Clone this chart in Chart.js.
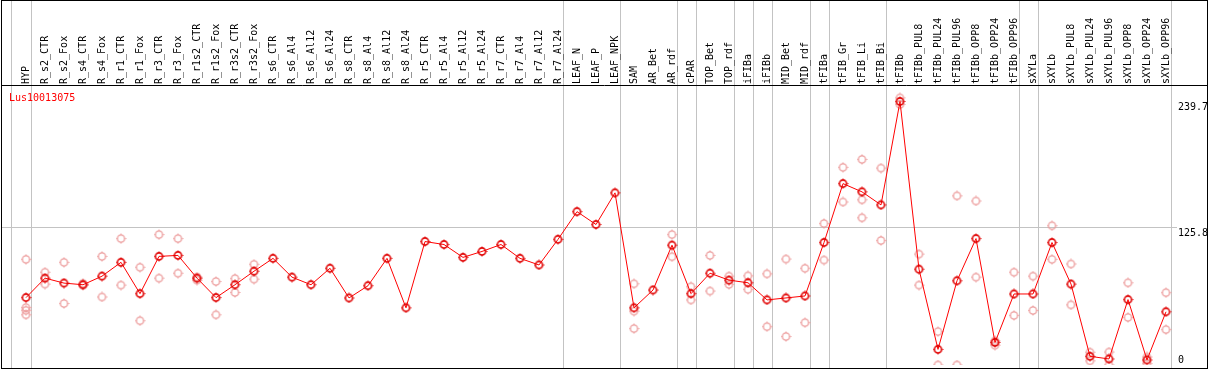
<!DOCTYPE html>
<html>
<head>
<meta charset="utf-8">
<script src="https://cdn.jsdelivr.net/npm/chart.js@4/dist/chart.umd.min.js"></script>
<style>
  body { margin: 0; background: #fff; }
  canvas { display: block; }
</style>
</head>
<body>
<canvas id="chart" width="1209" height="370"></canvas>
<script>
// ----- Data -----
var geneName = 'Lus10013075';

var categories = [
  'HYP', 'R_s2_CTR', 'R_s2_Fox', 'R_s4_CTR', 'R_s4_Fox', 'R_r1_CTR', 'R_r1_Fox',
  'R_r3_CTR', 'R_r3_Fox', 'R_r1s2_CTR', 'R_r1s2_Fox', 'R_r3s2_CTR', 'R_r3s2_Fox',
  'R_s6_CTR', 'R_s6_Al4', 'R_s6_Al12', 'R_s6_Al24', 'R_s8_CTR', 'R_s8_Al4',
  'R_s8_Al12', 'R_s8_Al24', 'R_r5_CTR', 'R_r5_Al4', 'R_r5_Al12', 'R_r5_Al24',
  'R_r7_CTR', 'R_r7_Al4', 'R_r7_Al12', 'R_r7_Al24', 'LEAF_N', 'LEAF_P', 'LEAF_NPK',
  'SAM', 'AR_Bet', 'AR_rdf', 'cPAR', 'TOP_Bet', 'TOP_rdf', 'iFIBa', 'iFIBb',
  'MID_Bet', 'MID_rdf', 'tFIBa', 'tFIB_Gr', 'tFIB_Li', 'tFIB_Bi', 'tFIBb',
  'tFIBb_PUL8', 'tFIBb_PUL24', 'tFIBb_PUL96', 'tFIBb_OPP8', 'tFIBb_OPP24', 'tFIBb_OPP96',
  'sXYLa', 'sXYLb', 'sXYLb_PUL8', 'sXYLb_PUL24', 'sXYLb_PUL96', 'sXYLb_OPP8',
  'sXYLb_OPP24', 'sXYLb_OPP96'
];

// mean expression per sample
var meanValues = [
  61.3, 79.0, 74.5, 73.0, 80.8, 93.4, 64.9, 98.8, 99.7, 79.0,
  61.3, 73.0, 85.3, 97.0, 79.9, 73.0, 88.0, 61.0, 72.1, 97.0,
  52.0, 112.3, 109.6, 97.9, 103.3, 109.6, 97.0, 91.0, 114.3, 139.5,
  127.8, 156.6, 52.0, 68.2, 109.0, 64.9, 83.5, 77.2, 74.8, 59.2,
  61.0, 62.8, 111.4, 165.0, 157.5, 145.6, 239.7, 87.1, 14.2, 76.6,
  115.0, 20.5, 64.6, 64.6, 111.4, 73.6, 7.9, 5.5, 59.5, 4.6, 48.4
];

// single replicates per sample (empty = none shown)
var replicates = [
  [96.1, 52.3, 49.8, 45.7], [84.4, 73.6], [93.4, 55.9], [74.3, 72.5], [98.8, 61.9],
  [115.0, 72.7], [88.9, 40.3], [118.6, 79.0], [115.0, 83.5], [77.2, 80.0],
  [75.9, 45.7], [78.6, 66.0], [91.6, 78.1], [], [], [], [], [], [], [], [], [], [], [], [],
  [], [], [], [], [], [], [],
  [73.9, 49.0, 33.1], [], [118.6, 98.5], [71.2, 59.2], [99.7, 67.3], [80.8, 73.3],
  [81.1, 68.8], [82.9, 34.9], [96.4, 25.9], [88.0, 38.5], [128.7, 95.5],
  [179.8, 148.3], [187.0, 150.3, 133.9], [179.1, 113.2], [243.0, 237.0],
  [100.9, 72.7], [30.4, 0], [153.9, 0], [149.2, 79.9], [22.0, 18.0], [84.4, 45.1],
  [80.8, 49.6], [126.7, 96.1], [91.9, 54.7], [11.6, 3.8], [11.8, 0], [74.8, 43.3],
  [7.3, 1.3], [65.8, 32.2]
];

var yTickValues = [0, 125.8, 239.7];
var yTickLabels = ['0', '125.8', '239.7'];
var yMax = 254.7;

// group separators, in category units
var separators = [-0.8, 0.25, 28.25, 31.25, 34.25, 35.25, 37.25, 38.25, 39.25,
                  41.25, 42.25, 45.25, 52.25, 53.25, 60.25];

// ----- Helpers -----
function makeMarker(color, lw) {
  var c = document.createElement('canvas');
  c.width = 11; c.height = 11;
  var g = c.getContext('2d');
  g.strokeStyle = color;
  g.lineWidth = lw;
  g.beginPath(); g.arc(5.5, 5.5, 3.6, 0, Math.PI * 2); g.stroke();
  g.lineWidth = 1;
  g.beginPath();
  g.moveTo(5.5, 0.5); g.lineTo(5.5, 2);
  g.moveTo(5.5, 9); g.lineTo(5.5, 10.5);
  g.moveTo(0.5, 5.5); g.lineTo(2, 5.5);
  g.moveTo(9, 5.5); g.lineTo(10.5, 5.5);
  g.stroke();
  return c;
}

var repPoints = [];
replicates.forEach(function (list, i) {
  list.forEach(function (v) { repPoints.push({ x: categories[i], y: v }); });
});

var MONO = '"DejaVu Sans Mono", monospace';

// frame, separators, sample names, title and value labels
var decor = {
  id: 'decor',
  beforeDatasetsDraw: function (chart) {
    var ctx = chart.ctx, xs = chart.scales.x, ys = chart.scales.y;
    ctx.save();
    ctx.strokeStyle = '#c3c3c3';
    ctx.lineWidth = 1;
    ctx.beginPath();
    separators.forEach(function (s) {
      var px = Math.round(xs.getPixelForValue(s)) + 0.5;
      ctx.moveTo(px, 0); ctx.lineTo(px, 369);
    });
    var gy = Math.round(ys.getPixelForValue(125.8)) + 0.5;
    ctx.moveTo(1, gy); ctx.lineTo(1177, gy);
    ctx.stroke();
    ctx.restore();
  },
  afterDraw: function (chart) {
    var ctx = chart.ctx, xs = chart.scales.x, ys = chart.scales.y;
    ctx.save();
    ctx.strokeStyle = '#000';
    ctx.lineWidth = 1;
    ctx.strokeRect(1.5, 0.5, 1206, 368);
    ctx.beginPath(); ctx.moveTo(1, 85.5); ctx.lineTo(1208, 85.5); ctx.stroke();

    ctx.font = '10px ' + MONO;
    ctx.textBaseline = 'alphabetic';
    ctx.textAlign = 'left';

    // vertical sample names
    ctx.fillStyle = '#000';
    categories.forEach(function (name, i) {
      ctx.save();
      ctx.translate(xs.getPixelForValue(i), 84);
      ctx.rotate(-Math.PI / 2);
      ctx.fillText(name, 0, 3);
      ctx.restore();
    });

    ctx.fillStyle = '#ff0000';
    ctx.fillText(geneName, 9, 101);

    ctx.fillStyle = '#000';
    yTickValues.forEach(function (v, i) {
      var py = ys.getPixelForValue(v);
      ctx.fillText(yTickLabels[i], 1178, v === 0 ? py - 2.5 : py + 9);
    });
    ctx.restore();
  }
};

// ----- Chart -----
var ctx = document.getElementById('chart').getContext('2d');
new Chart(ctx, {
  type: 'line',
  data: {
    labels: categories,
    datasets: [{
      data: meanValues,
      borderColor: '#ff0000',
      borderWidth: 1,
      tension: 0,
      pointStyle: makeMarker('#e00000', 1.6),
      pointRadius: 4
    }, {
      data: repPoints,
      showLine: false,
      pointStyle: makeMarker('#ec9a9a', 1.3),
      pointRadius: 4
    }]
  },
  options: {
    responsive: false,
    animation: false,
    layout: { padding: { left: 16.5, right: 0, top: 0, bottom: 2 } },
    plugins: { legend: { display: false }, tooltip: { enabled: false } },
    scales: {
      x: {
        position: 'top',
        offset: true,
        grid: { display: false },
        border: { display: false },
        ticks: { display: false },
        afterFit: function (s) { s.height = 85; }
      },
      y: {
        position: 'right',
        min: 0, max: yMax,
        grid: { display: false },
        border: { display: false },
        ticks: { display: false },
        afterFit: function (s) { s.width = 33.5; }
      }
    }
  },
  plugins: [decor]
});
</script>
</body>
</html>
